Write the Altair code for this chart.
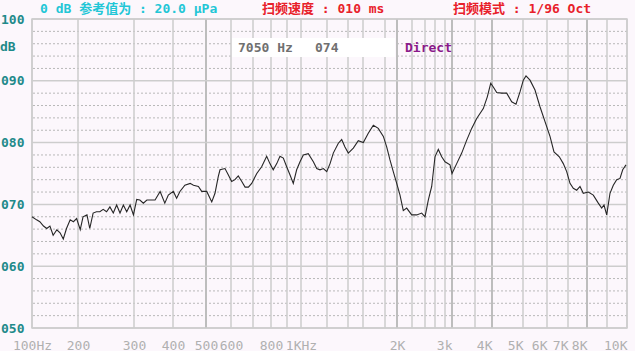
import altair as alt
import pandas as pd

# ---- data ----
freq_hz = [100,110,117,125,132,139,146,154,161,168,175,183,190,197,204,209,216,221,227,233,
           239,245,251,257,263,269,275,281,287,293,299,307,315,324,333,345,354,367,379,388,
           401,411,421,436,452,462,477,487,503,523,536,549,556,576,589,603,618,633,649,664,
           679,694,721,748,776,794,814,836,856,877,898,921,945,969,993,1018,1056,1095,1121,1146,
           1172,1198,1229,1260,1308,1340,1371,1404,1471,1537,1603,1648,1694,1739,1785,1828,1883,1938,1995,2040,
           2084,2129,2196,2272,2349,2400,2466,2534,2600,2666,2734,2800,2943,3000,3102,3211,3320,3428,3550,3744,
           3862,3962,4042,4152,4313,4474,4635,4774,4903,5013,5125,5292,5500,5708,5917,6143,6333,6586,6776,6938,
           7105,7279,7458,7632,7805,8065,8315,8565,8735,8850,8985,9150,9315,9485,9650,9785,9950]
level_db = [68.0,67.5,67.2,66.5,66.1,66.5,65.0,65.9,65.4,64.4,66.1,67.5,67.2,67.7,65.9,68.0,68.3,66.1,68.6,68.8,
            68.8,69.2,68.8,69.6,68.6,69.9,68.6,69.9,68.8,69.9,68.3,70.8,70.7,70.2,70.7,70.7,70.7,72.1,70.2,71.5,
            72.1,71.0,72.1,73.1,73.4,73.1,72.9,72.1,72.1,70.4,71.8,74.5,75.6,75.8,74.8,73.7,74.0,74.6,73.7,72.8,
            72.8,73.4,75.0,76.1,77.8,76.6,75.6,76.6,77.8,77.5,76.1,74.8,73.4,75.6,76.9,78.0,78.2,76.9,75.8,75.6,
            75.8,75.3,76.6,78.3,79.9,80.5,79.3,78.3,79.1,80.3,80.0,81.5,82.8,82.3,81.0,79.3,77.2,75.3,73.4,71.5,
            69.0,69.4,68.3,68.3,68.6,68.0,70.7,72.9,77.7,78.9,77.7,76.9,76.4,75.0,76.6,78.3,80.4,82.3,83.9,85.5,
            87.4,89.6,89.0,88.1,88.0,88.0,86.6,86.2,88.2,90.1,90.8,90.1,88.5,85.8,83.4,81.0,78.5,77.7,76.6,75.3,
            73.4,72.6,72.3,72.9,71.8,72.0,71.5,70.2,69.4,69.9,68.3,71.8,73.1,74.0,74.2,75.6,76.4]

grid_freqs = [100,200,300,400,500,600,700,800,900,1000,1200,1400,1600,1800,2000,2200,2400,2600,2800,
              3000,3500,4000,5000,6000,7000,8000,9000,10000]
strong_grid_freqs = [500,2000,3000,4000,8000]
x_tick_values = [100,200,300,400,500,600,800,1000,2000,3000,4000,5000,6000,7000,8000,10000]
major_db = [50,60,70,80,90,100]
minor_db = [52,54,56,58,62,64,66,68,72,74,76,78,82,84,86,88,92,94,96,98]

title_ref = "0 dB 参考值为 : 20.0 μPa"
title_speed = "扫频速度 : 010 ms"
title_mode = "扫频模式 : 1/96 Oct"
cursor_freq = "7050 Hz"
cursor_level = "074"
cursor_mode = "Direct"

# ---- style ----
BG = "#fcf7fc"
GRID = "#cdcdcd"
MONO = "DejaVu Sans Mono, Noto Sans CJK SC"
TEAL = "#1f8a8a"
W, H = 595, 309

# instrument's own (non-logarithmic) frequency grid, piecewise
x_scale = alt.Scale(type="linear", domain=grid_freqs,
                    range=[0,46,102,141,174,199,221,239,255,269,295,316,331,353,365,380,393,
                           403,413,420,443,460,491,515,536,555,575,595],
                    nice=False, zero=False)
y_scale = alt.Scale(domain=[50, 100], nice=False, zero=False)

x_axis = alt.Axis(values=x_tick_values, grid=False, ticks=False, domain=False,
                  labelExpr="datum.value == 100 ? '100Hz' : datum.value == 1000 ? '1KHz' : "
                            "datum.value < 1000 ? '' + datum.value : datum.value == 3000 ? '3k' : "
                            "(datum.value / 1000) + 'K'",
                  labelFont=MONO, labelFontSize=13, labelColor="#b0b0b0",
                  labelPadding=11, labelBaseline="top", labelOverlap=False,
                  labelFlush=False,
                  labelAlign={"condition": {"test": "datum.value >= 3000", "value": "right"},
                              "value": "center"})
y_axis = alt.Axis(values=major_db, grid=False, ticks=False, domain=False,
                  labelExpr="datum.value < 100 ? '0' + datum.value : '' + datum.value",
                  labelFont=MONO, labelFontSize=13, labelFontWeight="bold",
                  labelColor=TEAL, labelPadding=8)


def X(field="freq:Q"):
    return alt.X(field, scale=x_scale, axis=x_axis, title=None)


def Y(field="db:Q"):
    return alt.Y(field, scale=y_scale, axis=y_axis, title=None)


curve_df = pd.DataFrame({"freq": freq_hz, "db": level_db})

minor = alt.Chart(pd.DataFrame({"db": minor_db})).mark_rule(
    color="#b8b8b8", strokeDash=[2, 2], strokeWidth=1).encode(y=Y())

vgrid = alt.Chart(pd.DataFrame({"freq": grid_freqs})).mark_rule(
    color=GRID, strokeWidth=1.5).encode(x=X())

vgrid_strong = alt.Chart(pd.DataFrame({"freq": strong_grid_freqs})).mark_rule(
    color="#bdbdbd", strokeWidth=2).encode(x=X())

major = alt.Chart(pd.DataFrame({"db": major_db})).mark_rule(
    color=GRID, strokeWidth=1.5).encode(y=Y())

box = alt.Chart(pd.DataFrame({"k": [0]})).mark_rect(color="#ffffff").encode(
    x=alt.value(200), x2=alt.value(363), y=alt.value(19), y2=alt.value(38))

curve = alt.Chart(curve_df).mark_line(color="#262626", strokeWidth=1.1).encode(x=X(), y=Y())


def label(text, x, y, color, weight="bold", size=13):
    return alt.Chart(pd.DataFrame({"t": [text]})).mark_text(
        align="left", baseline="middle", font=MONO, fontSize=size,
        fontWeight=weight, color=color).encode(
        text="t:N", x=alt.value(x), y=alt.value(y))


texts = [
    label(title_ref, 8, -10, "#22c6d6"),
    label(title_speed, 230, -10, "#e8202a"),
    label(title_mode, 421, -10, "#e8202a"),
    label("dB", -32, 28, TEAL),
    label(cursor_freq, 206, 29, "#707070"),
    label(cursor_level, 283, 29, "#707070"),
    label(cursor_mode, 373, 29, "#8a1a8a"),
]

chart = alt.layer(minor, vgrid, vgrid_strong, major, box, curve, *texts).properties(
    width=W, height=H,
    autosize=alt.AutoSizeParams(type="none"),
    padding={"left": 32, "top": 19, "right": 8, "bottom": 23},
    background=BG,
).configure_view(stroke=GRID, strokeWidth=1.5, fill=BG)

chart.save("out.html", embed_options={"renderer": "svg", "actions": False})
